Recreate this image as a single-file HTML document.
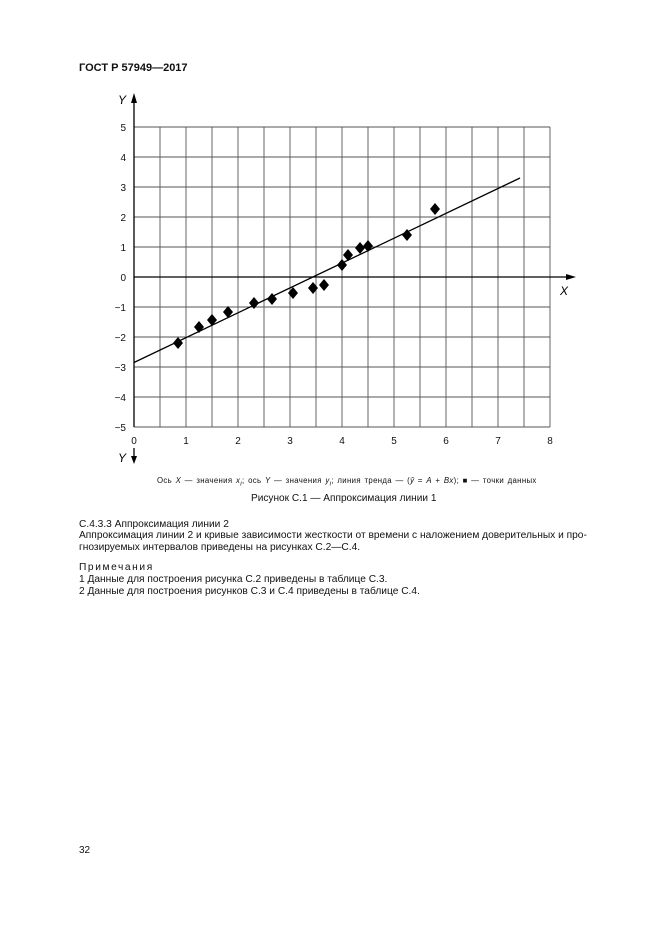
<!DOCTYPE html>
<html><head><meta charset="utf-8"><style>
body{margin:0;background:#fff;}
.p{position:relative;width:661px;height:935px;font-family:"Liberation Sans",Arial,sans-serif;color:#111;}
.t{position:absolute;white-space:nowrap;font-size:10.2px;}
</style></head><body><div class="p">
<div class="t" style="left:79px;top:62px;font-weight:bold;font-size:11px">ГОСТ Р 57949—2017</div>
<svg width="661" height="935" style="position:absolute;left:0;top:0" font-family="Liberation Sans, Arial, sans-serif">
<g stroke="#555" stroke-width="0.9">
<line x1="160" y1="127" x2="160" y2="427"/><line x1="186" y1="127" x2="186" y2="427"/><line x1="212" y1="127" x2="212" y2="427"/><line x1="238" y1="127" x2="238" y2="427"/><line x1="264" y1="127" x2="264" y2="427"/><line x1="290" y1="127" x2="290" y2="427"/><line x1="316" y1="127" x2="316" y2="427"/><line x1="342" y1="127" x2="342" y2="427"/><line x1="368" y1="127" x2="368" y2="427"/><line x1="394" y1="127" x2="394" y2="427"/><line x1="420" y1="127" x2="420" y2="427"/><line x1="446" y1="127" x2="446" y2="427"/><line x1="472" y1="127" x2="472" y2="427"/><line x1="498" y1="127" x2="498" y2="427"/><line x1="524" y1="127" x2="524" y2="427"/><line x1="550" y1="127" x2="550" y2="427"/>
<line x1="134" y1="127" x2="550" y2="127"/><line x1="134" y1="157" x2="550" y2="157"/><line x1="134" y1="187" x2="550" y2="187"/><line x1="134" y1="217" x2="550" y2="217"/><line x1="134" y1="247" x2="550" y2="247"/><line x1="134" y1="307" x2="550" y2="307"/><line x1="134" y1="337" x2="550" y2="337"/><line x1="134" y1="367" x2="550" y2="367"/><line x1="134" y1="397" x2="550" y2="397"/><line x1="134" y1="427" x2="550" y2="427"/>
</g>
<g stroke="#000" stroke-width="1.3">
<line x1="134" y1="427" x2="134" y2="100"/>
<line x1="134" y1="277" x2="568" y2="277"/>
<line x1="134" y1="448" x2="134" y2="460"/>
<line x1="134" y1="362.5" x2="520" y2="178"/>
</g>
<polygon points="134,93 131,103 137,103" fill="#000"/>
<polygon points="576,277 566,274 566,280" fill="#000"/>
<polygon points="134,464 131,456 137,456" fill="#000"/>
<g font-size="10" fill="#111" text-anchor="end">
<text x="126" y="131">5</text><text x="126" y="161">4</text><text x="126" y="191">3</text><text x="126" y="221">2</text><text x="126" y="251">1</text><text x="126" y="281">0</text><text x="126" y="311">−1</text><text x="126" y="341">−2</text><text x="126" y="371">−3</text><text x="126" y="401">−4</text><text x="126" y="431">−5</text>
</g>
<g font-size="10" fill="#111" text-anchor="middle">
<text x="134" y="444">0</text><text x="186" y="444">1</text><text x="238" y="444">2</text><text x="290" y="444">3</text><text x="342" y="444">4</text><text x="394" y="444">5</text><text x="446" y="444">6</text><text x="498" y="444">7</text><text x="550" y="444">8</text>
</g>
<text x="118" y="104" font-size="12" font-style="italic">Y</text>
<text x="118" y="462" font-size="12" font-style="italic">Y</text>
<text x="560" y="295" font-size="12" font-style="italic">X</text>
<g fill="#000">
<polygon points="178,337 183,343 178,349 173,343"/>
<polygon points="199,321 204,327 199,333 194,327"/>
<polygon points="212,314 217,320 212,326 207,320"/>
<polygon points="228,306 233,312 228,318 223,312"/>
<polygon points="254,297 259,303 254,309 249,303"/>
<polygon points="272,293 277,299 272,305 267,299"/>
<polygon points="293,287 298,293 293,299 288,293"/>
<polygon points="313,282 318,288 313,294 308,288"/>
<polygon points="324,279 329,285 324,291 319,285"/>
<polygon points="342,259 347,265 342,271 337,265"/>
<polygon points="348,249 353,255 348,261 343,255"/>
<polygon points="360,242 365,248 360,254 355,248"/>
<polygon points="368,240 373,246 368,252 363,246"/>
<polygon points="407,229 412,235 407,241 402,235"/>
<polygon points="435,203 440,209 435,215 430,209"/>
</g>
</svg>
<div class="t" style="left:157px;top:476px;font-size:7.8px;letter-spacing:0.35px;word-spacing:1px">Ось <i>X</i> — значения <i>x<sub>i</sub></i>; ось <i>Y</i> — значения <i>y<sub>i</sub></i>; линия тренда — (<i>ŷ</i> = <i>A</i> + <i>Bx</i>); ■ — точки данных</div>
<div class="t" style="left:251px;top:493px;font-size:10.1px">Рисунок С.1 — Аппроксимация линии 1</div>
<div class="t" style="left:79px;top:519px">С.4.3.3 Аппроксимация линии 2</div>
<div class="t" style="left:79px;top:530px">Аппроксимация линии 2 и кривые зависимости жесткости от времени с наложением доверительных и про-</div>
<div class="t" style="left:79px;top:542px">гнозируемых интервалов приведены на рисунках С.2—С.4.</div>
<div class="t" style="left:79px;top:562px;letter-spacing:1.6px">Примечания</div>
<div class="t" style="left:79px;top:574px">1 Данные для построения рисунка С.2 приведены в таблице С.3.</div>
<div class="t" style="left:79px;top:586px">2 Данные для построения рисунков С.3 и С.4 приведены в таблице С.4.</div>
<div class="t" style="left:79px;top:845px;font-size:10px">32</div>
</div></body></html>
